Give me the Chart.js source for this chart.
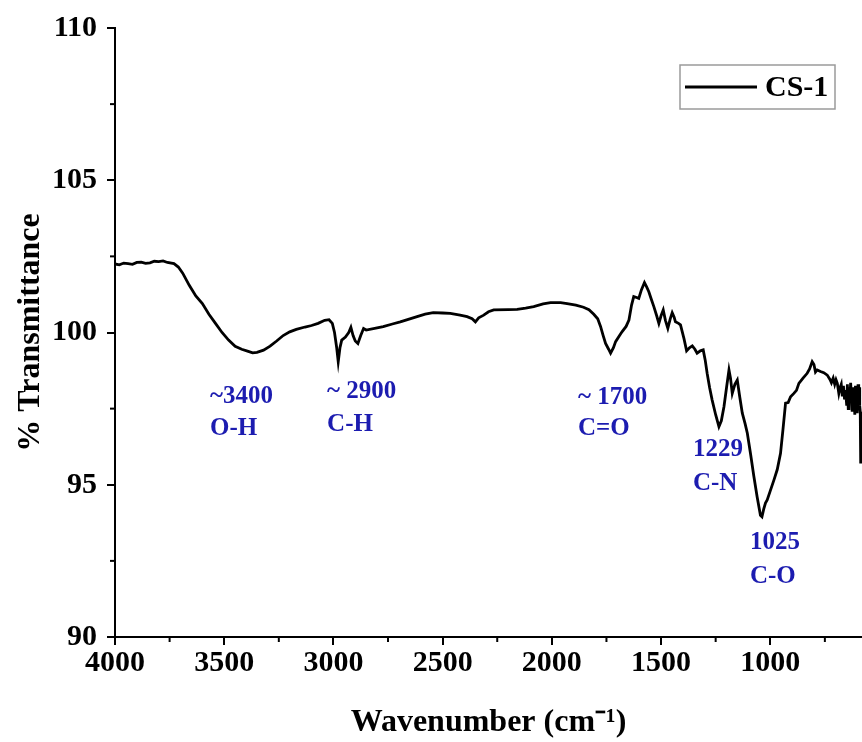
<!DOCTYPE html>
<html><head><meta charset="utf-8">
<script src="https://cdn.jsdelivr.net/npm/chart.js@4/dist/chart.umd.min.js"></script>
<style>html,body{margin:0;padding:0;background:#fff}</style>
</head><body>
<canvas id="c" width="862" height="742"></canvas>
<script>
const seriesName = 'CS-1';
const wavenumber = [4000,3980,3960,3940,3920,3900,3880,3860,3840,3820,3800,3780,3760,3730,3710,3690,3660,3630,3600,3570,3540,3510,3480,3450,3420,3390,3370,3350,3320,3290,3260,3230,3200,3170,3130,3100,3070,3040,3020,3005,2995,2985,2978,2970,2962,2945,2930,2920,2910,2900,2888,2875,2862,2850,2800,2772,2730,2694,2650,2617,2580,2543,2500,2465,2420,2388,2365,2350,2335,2312,2290,2266,2200,2159,2120,2083,2040,2006,1960,1930,1890,1855,1830,1808,1790,1777,1765,1754,1740,1731,1718,1708,1690,1678,1660,1647,1635,1625,1612,1602,1590,1576,1566,1556,1545,1533,1520,1510,1500,1490,1480,1469,1458,1449,1440,1434,1420,1411,1395,1383,1370,1357,1345,1335,1320,1307,1298,1289,1278,1266,1250,1235,1224,1212,1200,1189,1182,1174,1162,1151,1140,1128,1115,1105,1090,1075,1060,1045,1038,1030,1022,1014,1000,983,968,953,942,930,918,907,892,880,869,850,831,820,808,800,793,785,770,755,739,726,720,712,705,699,693,686,680,675,670,665,660,655,650,647,643,640,636,632,628,625,621,616,613,610,607,605,602,598,595,593,591,590,588,586,584,582];
const transmittance = [102.25,102.22,102.28,102.26,102.24,102.3,102.31,102.27,102.29,102.34,102.33,102.35,102.30,102.26,102.15,101.95,101.55,101.2,100.95,100.6,100.3,100.0,99.75,99.55,99.45,99.38,99.33,99.35,99.42,99.55,99.72,99.9,100.02,100.1,100.18,100.23,100.3,100.4,100.42,100.3,100.0,99.5,99.04,99.5,99.75,99.85,100.0,100.17,99.9,99.72,99.64,99.9,100.13,100.08,100.15,100.19,100.28,100.35,100.45,100.52,100.6,100.65,100.64,100.63,100.57,100.52,100.45,100.35,100.48,100.57,100.68,100.74,100.75,100.76,100.8,100.85,100.94,100.98,100.98,100.95,100.9,100.83,100.75,100.6,100.45,100.2,99.9,99.64,99.45,99.32,99.5,99.7,99.9,100.03,100.2,100.41,100.9,101.18,101.15,101.12,101.4,101.64,101.5,101.34,101.1,100.85,100.55,100.3,100.55,100.74,100.4,100.14,100.45,100.65,100.5,100.35,100.3,100.25,99.8,99.4,99.5,99.56,99.45,99.32,99.4,99.43,99.1,98.66,98.2,97.78,97.3,96.91,97.1,97.56,98.2,98.77,98.5,98.0,98.3,98.44,97.9,97.35,97.0,96.69,96.0,95.27,94.6,94.0,93.95,94.2,94.4,94.5,94.8,95.16,95.5,96.03,96.8,97.68,97.7,97.89,98.0,98.1,98.33,98.5,98.66,98.8,99.04,98.95,98.7,98.77,98.72,98.68,98.6,98.45,98.35,98.5,98.3,98.45,98.33,98.0,98.2,98.3,97.9,98.25,97.8,98.11,97.6,98.3,97.5,98.2,97.75,98.35,97.8,97.4,98.2,97.9,97.3,98.25,97.6,98.0,97.35,98.3,97.5,97.9,98.2,97.6,97.4,95.7];
const xTicks = [4000,3500,3000,2500,2000,1500,1000];
const xMinorTicks = [3750,3250,2750,2250,1750,1250,750];
const yTicks = [90,95,100,105,110];
const yMinorTicks = [92.5,97.5,102.5,107.5];
const bandLabels = ['~3400','~ 2900','~ 1700','1229','1025'];
const bandGroups = ['O-H','C-H','C=O','C-N','C-O'];
const bandTextX = [3565,3029,1880,1354,1093];
const bandTextY = [97.9,98.05,97.88,96.15,93.1];
const bandGroupY = [96.85,96.98,96.85,95.05,92.0];

const points = wavenumber.map((w,i)=>({x:w,y:transmittance[i]}));
const SERIF = '"Liberation Serif","Times New Roman",serif';

const extras = {
  id:'extras',
  afterDraw(chart){
    const ctx = chart.ctx, xs = chart.scales.x, ys = chart.scales.y, ca = chart.chartArea;
    ctx.save();
    ctx.strokeStyle = '#000'; ctx.lineWidth = 2;
    xMinorTicks.forEach(v=>{
      const px = xs.getPixelForValue(v);
      if(px < ca.left || px > ca.right) return;
      ctx.beginPath(); ctx.moveTo(px, ca.bottom); ctx.lineTo(px, ca.bottom+5); ctx.stroke();
    });
    yMinorTicks.forEach(v=>{
      const py = ys.getPixelForValue(v);
      ctx.beginPath(); ctx.moveTo(ca.left, py); ctx.lineTo(ca.left-5, py); ctx.stroke();
    });
    ctx.fillStyle = '#1c1cb0';
    ctx.font = 'bold 25px ' + SERIF;
    ctx.textAlign = 'left'; ctx.textBaseline = 'middle';
    bandLabels.forEach((t,i)=>{
      const px = xs.getPixelForValue(bandTextX[i]);
      ctx.fillText(t, px, ys.getPixelForValue(bandTextY[i]));
      ctx.fillText(bandGroups[i], px, ys.getPixelForValue(bandGroupY[i]));
    });
    const ds = chart.data.datasets[0];
    const bx = ca.right - 182, by = ca.top + 37, bw = 155, bh = 44;
    ctx.strokeStyle = '#9a9a9a'; ctx.lineWidth = 1.5;
    ctx.strokeRect(bx, by, bw, bh);
    ctx.strokeStyle = ds.borderColor; ctx.lineWidth = 3;
    ctx.beginPath(); ctx.moveTo(bx+5, by+bh/2); ctx.lineTo(bx+77, by+bh/2); ctx.stroke();
    ctx.fillStyle = '#000'; ctx.font = 'bold 30px ' + SERIF;
    ctx.textBaseline = 'middle';
    ctx.fillText(ds.label, bx+85, by+bh/2+1);
    ctx.restore();
  }
};

new Chart(document.getElementById('c'), {
  type:'line',
  data:{datasets:[{label:seriesName,data:points,borderColor:'#000',borderWidth:2.8,pointRadius:0,tension:0,fill:false}]},
  options:{
    responsive:false, animation:false,
    layout:{padding:{top:28,right:0,left:0,bottom:0}},
    plugins:{legend:{display:false},tooltip:{enabled:false}},
    scales:{
      x:{type:'linear',reverse:true,min:580,max:4000,
        afterBuildTicks:s=>{s.ticks = xTicks.map(v=>({value:v}));},
        afterFit:s=>{s.height = 105;},
        ticks:{color:'#000',font:{family:SERIF,size:30,weight:'bold'},maxRotation:0,autoSkip:false,padding:0,callback:v=>String(v)},
        grid:{drawOnChartArea:false,drawTicks:true,tickLength:8,color:'#000',lineWidth:2},
        border:{display:true,color:'#000',width:2},
        title:{display:true,text:'Wavenumber (cm\u207B\u00B9)',color:'#000',font:{family:SERIF,size:32,weight:'bold'},padding:{top:0,bottom:0}}
      },
      y:{min:90,max:110,
        afterBuildTicks:s=>{s.ticks = yTicks.map(v=>({value:v}));},
        afterFit:s=>{s.width = 115;},
        ticks:{color:'#000',font:{family:SERIF,size:30,weight:'bold'},padding:10,callback:v=>String(v)},
        grid:{drawOnChartArea:false,drawTicks:true,tickLength:8,color:'#000',lineWidth:2},
        border:{display:true,color:'#000',width:2},
        title:{display:true,text:'% Transmittance',color:'#000',font:{family:SERIF,size:32,weight:'bold'},padding:{top:12,bottom:0}}
      }
    }
  },
  plugins:[extras]
});
</script>
</body></html>
